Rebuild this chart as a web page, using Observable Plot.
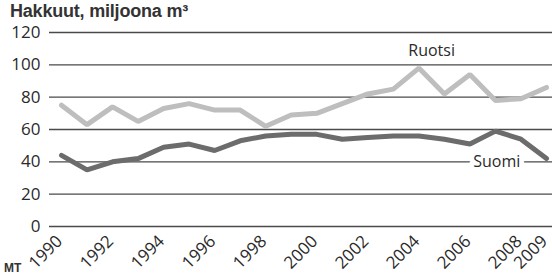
<!DOCTYPE html>
<html>
<head>
<meta charset="utf-8">
<script src="https://cdn.jsdelivr.net/npm/d3@7"></script>
<script src="https://cdn.jsdelivr.net/npm/@observablehq/plot@0.6"></script>
<style>
  html, body { margin: 0; padding: 0; background: #fff; width: 552px; height: 275px; overflow: hidden; position: relative; }
  #title { height: 18px; font-family: "Liberation Sans Narrow", "Liberation Sans", sans-serif; font-weight: bold; font-size: 18px; color: #333; padding-left: 10px; padding-top: 2px; line-height: 18px; letter-spacing: -0.2px; box-sizing: content-box; }
  #caption { position: absolute; left: 4px; top: 262px; font-family: "Liberation Sans Narrow", "Liberation Sans", sans-serif; font-weight: bold; font-size: 12px; color: #333; line-height: 12px; }
  svg { display: block; }
</style>
</head>
<body>
<div id="title">Hakkuut, miljoona m³</div>
<div id="chart"></div>
<div id="caption">MT</div>
<script>
const years = d3.range(1990, 2010);
const ruotsi = [75, 63, 74, 65, 73, 76, 72, 72, 62, 69, 70, 76, 82, 85, 98, 82, 94, 78, 79, 86];
const suomi  = [44, 35, 40, 42, 49, 51, 47, 53, 56, 57, 57, 54, 55, 56, 56, 54, 51, 59, 54, 42];
const yTicks = [0, 20, 40, 60, 80, 100, 120];
const xTicks = [1990, 1992, 1994, 1996, 1998, 2000, 2002, 2004, 2006, 2008, 2009];
const seriesLabels = [
  {name: "Ruotsi", year: 2004.5, value: 108.5},
  {name: "Suomi", year: 2007.05, value: 40}
];

const rData = years.map((y, i) => ({year: y, value: ruotsi[i]}));
const sData = years.map((y, i) => ({year: y, value: suomi[i]}));

const font = "'Open Sans', sans-serif";

const chart = Plot.plot({
  width: 552,
  height: 252,
  marginLeft: 49,
  marginRight: 0,
  marginTop: 12,
  marginBottom: 46,
  insetLeft: 12,
  insetRight: 6,
  style: {fontFamily: font, color: "#333", background: "#fff", overflow: "visible"},
  x: {domain: [1990, 2009], axis: null},
  y: {domain: [0, 120]},
  marks: [
    Plot.ruleY(yTicks, {stroke: "#4a4a4a", strokeWidth: 1.4}),
    Plot.axisY({ticks: yTicks, tickSize: 0, tickPadding: 9, fontSize: 17, label: null, fill: "#2a2a2a"}),
    Plot.text(xTicks, {x: d => d, text: d => String(d), frameAnchor: "bottom", rotate: -45, textAnchor: "end", lineAnchor: "middle", dy: 12, dx: -2, fontSize: 17, fill: "#2a2a2a"}),
    Plot.line(rData, {x: "year", y: "value", stroke: "#bebebe", strokeWidth: 5, strokeLinejoin: "miter"}),
    Plot.line(sData, {x: "year", y: "value", stroke: "#6c6c6c", strokeWidth: 5, strokeLinejoin: "miter"}),
    Plot.text(seriesLabels, {x: "year", y: "value", text: "name", fontSize: 16, fill: "#2a2a2a", stroke: "white", strokeWidth: 10, paintOrder: "stroke"})
  ]
});
document.getElementById("chart").appendChild(chart);
</script>
</body>
</html>
